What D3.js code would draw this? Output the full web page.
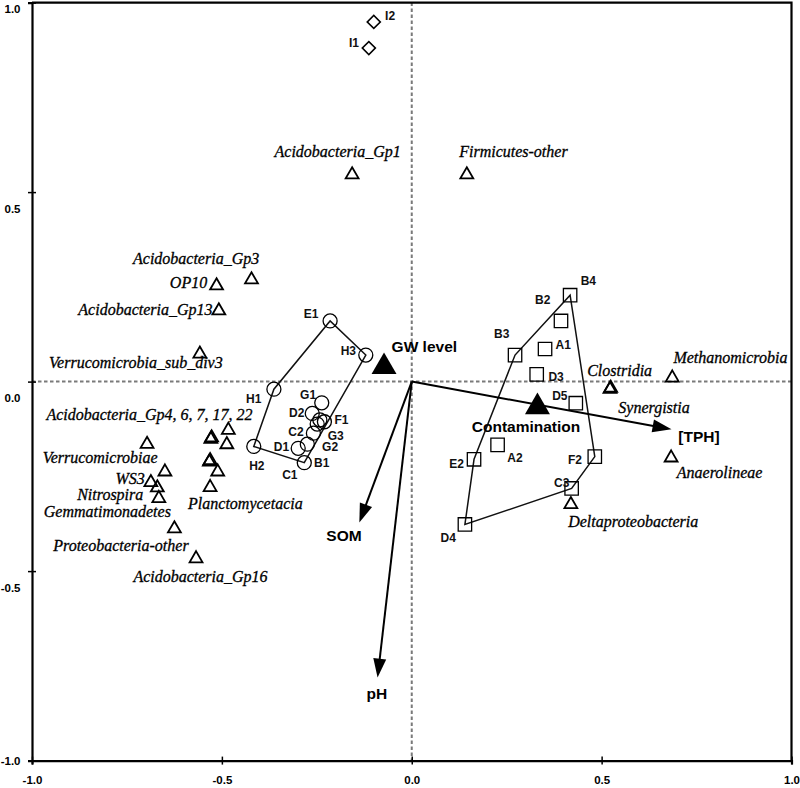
<!DOCTYPE html>
<html><head><meta charset="utf-8">
<script src="https://cdn.jsdelivr.net/npm/d3@7"></script>
<style>body{margin:0;background:#fff} svg{display:block}</style>
</head><body>
<script>
// ---------- data ----------
const axisTicks = [-1, -0.5, 0, 0.5, 1];
const axisTickLabels = ["-1.0", "-0.5", "0.0", "0.5", "1.0"];

// taxa (open triangles)
const taxa = [
  {name: "Acidobacteria_Gp1", x: -0.157, y: 0.546},
  {name: "Firmicutes-other", x: 0.145, y: 0.546},
  {name: "Acidobacteria_Gp3", x: -0.422, y: 0.269},
  {name: "OP10", x: -0.514, y: 0.253},
  {name: "Acidobacteria_Gp13", x: -0.508, y: 0.187},
  {name: "Verrucomicrobia_sub_div3", x: -0.558, y: 0.073},
  {name: "Clostridia", x: 0.522, y: -0.020},
  {name: "Synergistia", x: 0.524, y: -0.017},
  {name: "Methanomicrobia", x: 0.686, y: 0.010},
  {name: "Anaerolineae", x: 0.683, y: -0.201},
  {name: "Deltaproteobacteria", x: 0.419, y: -0.324},
  {name: "Acidobacteria_Gp22", x: -0.483, y: -0.128},
  {name: "Acidobacteria_Gp4", x: -0.529, y: -0.152},
  {name: "Acidobacteria_Gp6", x: -0.527, y: -0.148},
  {name: "Acidobacteria_Gp7", x: -0.487, y: -0.166},
  {name: "Verrucomicrobiae", x: -0.697, y: -0.165},
  {name: "Acidobacteria_Gp17", x: -0.533, y: -0.212},
  {name: "Planctomycetes-other", x: -0.531, y: -0.208},
  {name: "Acidobacteria_Gp5", x: -0.511, y: -0.238},
  {name: "Spartobacteria", x: -0.650, y: -0.238},
  {name: "WS3", x: -0.687, y: -0.266},
  {name: "Gemmatimonadetes", x: -0.670, y: -0.280},
  {name: "Nitrospira", x: -0.666, y: -0.308},
  {name: "Planctomycetacia", x: -0.531, y: -0.279},
  {name: "Proteobacteria-other", x: -0.625, y: -0.388},
  {name: "Acidobacteria_Gp16", x: -0.568, y: -0.467}
];

// samples
const circleSamples = [
  {id: "E1", x: -0.215, y: 0.160},
  {id: "H3", x: -0.121, y: 0.070},
  {id: "H1", x: -0.363, y: -0.020},
  {id: "H2", x: -0.416, y: -0.171},
  {id: "C1", x: -0.283, y: -0.214},
  {id: "D1", x: -0.299, y: -0.176},
  {id: "G2", x: -0.275, y: -0.165},
  {id: "C2", x: -0.259, y: -0.136},
  {id: "G3", x: -0.249, y: -0.112},
  {id: "F1", x: -0.242, y: -0.101},
  {id: "B1", x: -0.230, y: -0.106},
  {id: "D2", x: -0.262, y: -0.084},
  {id: "G1", x: -0.237, y: -0.056}
];
const squareSamples = [
  {id: "B4", x: 0.417, y: 0.228},
  {id: "B2", x: 0.393, y: 0.160},
  {id: "B3", x: 0.272, y: 0.070},
  {id: "A1", x: 0.351, y: 0.086},
  {id: "D3", x: 0.329, y: 0.019},
  {id: "D5", x: 0.432, y: -0.057},
  {id: "A2", x: 0.226, y: -0.167},
  {id: "E2", x: 0.164, y: -0.205},
  {id: "F2", x: 0.482, y: -0.198},
  {id: "C3", x: 0.421, y: -0.282},
  {id: "D4", x: 0.140, y: -0.377}
];
const diamondSamples = [
  {id: "I2", x: -0.100, y: 0.949},
  {id: "I1", x: -0.113, y: 0.880}
];

// environmental variables
const envArrows = [
  {name: "[TPH]", x: 0.684, y: -0.126},
  {name: "SOM", x: -0.138, y: -0.372},
  {name: "pH", x: -0.090, y: -0.781}
];
const centroids = [
  {name: "GW level", x: -0.073, y: 0.039},
  {name: "Contamination", x: 0.331, y: -0.067}
];

// label anchors (chart units)
const taxonLabels = [
  {text: "Acidobacteria_Gp1", x: -0.029, y: 0.606, anchor: "end"},
  {text: "Firmicutes-other", x: 0.125, y: 0.606, anchor: "start"},
  {text: "Acidobacteria_Gp3", x: -0.734, y: 0.325, anchor: "start"},
  {text: "OP10", x: -0.637, y: 0.262, anchor: "start"},
  {text: "Acidobacteria_Gp13", x: -0.878, y: 0.189, anchor: "start"},
  {text: "Verrucomicrobia_sub_div3", x: -0.955, y: 0.051, anchor: "start"},
  {text: "Acidobacteria_Gp4, 6, 7, 17, 22", x: -0.962, y: -0.088, anchor: "start"},
  {text: "Verrucomicrobiae", x: -0.972, y: -0.202, anchor: "start"},
  {text: "WS3", x: -0.780, y: -0.255, anchor: "start"},
  {text: "Nitrospira", x: -0.881, y: -0.299, anchor: "start"},
  {text: "Gemmatimonadetes", x: -0.969, y: -0.343, anchor: "start"},
  {text: "Proteobacteria-other", x: -0.944, y: -0.434, anchor: "start"},
  {text: "Acidobacteria_Gp16", x: -0.733, y: -0.515, anchor: "start"},
  {text: "Planctomycetacia", x: -0.589, y: -0.321, anchor: "start"},
  {text: "Clostridia", x: 0.462, y: 0.029, anchor: "start"},
  {text: "Methanomicrobia", x: 0.689, y: 0.064, anchor: "start"},
  {text: "Synergistia", x: 0.544, y: -0.070, anchor: "start"},
  {text: "Anaerolineae", x: 0.698, y: -0.240, anchor: "start"},
  {text: "Deltaproteobacteria", x: 0.412, y: -0.370, anchor: "start"}
];
const sampleLabels = [
  {text: "E1", x: -0.265, y: 0.178}, {text: "H3", x: -0.167, y: 0.081},
  {text: "H1", x: -0.416, y: -0.044}, {text: "H2", x: -0.408, y: -0.222},
  {text: "C1", x: -0.321, y: -0.245}, {text: "B1", x: -0.237, y: -0.214},
  {text: "D1", x: -0.343, y: -0.172}, {text: "C2", x: -0.305, y: -0.132},
  {text: "D2", x: -0.303, y: -0.082}, {text: "G1", x: -0.273, y: -0.034},
  {text: "F1", x: -0.185, y: -0.101}, {text: "G3", x: -0.200, y: -0.143},
  {text: "G2", x: -0.215, y: -0.173},
  {text: "B4", x: 0.465, y: 0.265}, {text: "B2", x: 0.345, y: 0.215},
  {text: "B3", x: 0.237, y: 0.127}, {text: "A1", x: 0.399, y: 0.097},
  {text: "D3", x: 0.380, y: 0.013}, {text: "D5", x: 0.390, y: -0.038},
  {text: "A2", x: 0.272, y: -0.202}, {text: "E2", x: 0.118, y: -0.216},
  {text: "F2", x: 0.430, y: -0.205}, {text: "C3", x: 0.395, y: -0.268},
  {text: "D4", x: 0.096, y: -0.413},
  {text: "I2", x: -0.057, y: 0.965}, {text: "I1", x: -0.152, y: 0.895}
];
const envLabels = [
  {text: "GW level", x: -0.053, y: 0.094, anchor: "start"},
  {text: "Contamination", x: 0.158, y: -0.117, anchor: "start"},
  {text: "[TPH]", x: 0.702, y: -0.144, anchor: "start"},
  {text: "SOM", x: -0.132, y: -0.407, anchor: "end"},
  {text: "pH", x: -0.092, y: -0.822, anchor: "middle"}
];

// ---------- drawing ----------
const W = 800, H = 788;
const svg = d3.select("body").append("svg").attr("width", W).attr("height", H);
svg.append("rect").attr("width", W).attr("height", H).attr("fill", "#fff");

const x = d3.scaleLinear().domain([-1, 1]).range([32, 791.5]);
const y = d3.scaleLinear().domain([-1, 1]).range([760.6, 2.6]);

// zero dashed lines
const zl = svg.append("g").attr("stroke", "#7a7a7a").attr("stroke-width", 2).attr("stroke-dasharray", "3.5,2.5");
zl.append("line").attr("x1", x(-1)).attr("x2", x(1)).attr("y1", y(0)).attr("y2", y(0));
zl.append("line").attr("x1", x(0)).attr("x2", x(0)).attr("y1", y(1)).attr("y2", y(-1));

// hulls
function hull(pts) {
  const h = d3.polygonHull(pts.map(d => [x(d.x), y(d.y)]));
  return "M" + h.join("L") + "Z";
}
svg.append("path").attr("d", hull(circleSamples)).attr("fill", "none").attr("stroke", "#111").attr("stroke-width", 1.5);
svg.append("path").attr("d", hull(squareSamples)).attr("fill", "none").attr("stroke", "#111").attr("stroke-width", 1.5);

// arrows
const ag = svg.append("g");
envArrows.forEach(a => {
  const x0 = x(0), y0 = y(0), x1 = x(a.x), y1 = y(a.y);
  const dx = x1 - x0, dy = y1 - y0, L = Math.hypot(dx, dy);
  const ux = dx / L, uy = dy / L, hl = 19, hw = 6.5;
  const bx = x1 - ux * hl, by = y1 - uy * hl;
  ag.append("line").attr("x1", x0).attr("y1", y0).attr("x2", bx + ux * 2).attr("y2", by + uy * 2)
    .attr("stroke", "#000").attr("stroke-width", 2);
  ag.append("path").attr("d", `M${x1},${y1}L${bx - uy * hw},${by + ux * hw}L${bx + uy * hw},${by - ux * hw}Z`)
    .attr("fill", "#000");
});

// markers
svg.append("g").selectAll("path").data(taxa).join("path")
  .attr("d", d3.symbol(d3.symbolTriangle, 72))
  .attr("transform", d => `translate(${x(d.x)},${y(d.y)})`)
  .attr("fill", "none").attr("stroke", "#000").attr("stroke-width", 1.8);
svg.append("g").selectAll("circle").data(circleSamples).join("circle")
  .attr("cx", d => x(d.x)).attr("cy", d => y(d.y)).attr("r", 7)
  .attr("fill", "none").attr("stroke", "#000").attr("stroke-width", 1.3);
svg.append("g").selectAll("path").data(squareSamples).join("path")
  .attr("d", d3.symbol(d3.symbolSquare, 180))
  .attr("transform", d => `translate(${x(d.x)},${y(d.y)})`)
  .attr("fill", "none").attr("stroke", "#000").attr("stroke-width", 1.3);
svg.append("g").selectAll("path").data(diamondSamples).join("path")
  .attr("d", d3.symbol(d3.symbolSquare, 85))
  .attr("transform", d => `translate(${x(d.x)},${y(d.y)}) rotate(45)`)
  .attr("fill", "none").attr("stroke", "#000").attr("stroke-width", 1.6);
svg.append("g").selectAll("path").data(centroids).join("path")
  .attr("d", d3.symbol(d3.symbolTriangle, 270))
  .attr("transform", d => `translate(${x(d.x)},${y(d.y)})`)
  .attr("fill", "#000");

// labels
svg.append("g").selectAll("text").data(taxonLabels).join("text")
  .attr("x", d => x(d.x)).attr("y", d => y(d.y)).attr("dy", "0.33em")
  .attr("text-anchor", d => d.anchor)
  .attr("font-family", "'Liberation Serif','Times New Roman',serif")
  .attr("font-style", "italic").attr("font-size", 16).attr("fill", "#000")
  .attr("stroke", "#000").attr("stroke-width", 0.3)
  .text(d => d.text);
svg.append("g").selectAll("text").data(sampleLabels).join("text")
  .attr("x", d => x(d.x)).attr("y", d => y(d.y)).attr("dy", "0.36em")
  .attr("text-anchor", "middle")
  .attr("font-family", "'Liberation Sans Narrow','Liberation Sans',Arial,sans-serif")
  .attr("font-weight", "bold").attr("font-size", 12).attr("fill", "#111")
  .text(d => d.text);
svg.append("g").selectAll("text").data(envLabels).join("text")
  .attr("x", d => x(d.x)).attr("y", d => y(d.y)).attr("dy", "0.36em")
  .attr("text-anchor", d => d.anchor)
  .attr("font-family", "'Liberation Sans',Arial,sans-serif")
  .attr("font-weight", "bold").attr("font-size", 15.5).attr("fill", "#000")
  .text(d => d.text);

// axes & frame
const fmt = v => axisTickLabels[axisTicks.indexOf(v)];
const gx = svg.append("g").attr("transform", `translate(0,${y(-1)})`)
  .call(d3.axisBottom(x).tickValues(axisTicks).tickFormat(fmt).tickSize(4).tickPadding(11));
const gy = svg.append("g").attr("transform", `translate(${x(-1)},0)`)
  .call(d3.axisLeft(y).tickValues(axisTicks).tickFormat(fmt).tickSize(4).tickPadding(7.5));
[gx, gy].forEach(g => {
  g.select(".domain").attr("stroke", "#000").attr("stroke-width", 2.2);
  g.selectAll(".tick line").attr("stroke", "#000").attr("stroke-width", 1.5);
  g.selectAll(".tick text").attr("font-family", "'Liberation Sans',Arial,sans-serif")
    .attr("font-weight", "bold").attr("font-size", 11.5).attr("fill", "#000");
});
gx.selectAll(".tick line").attr("y1", -4).attr("y2", 4);
gy.selectAll(".tick line").attr("x1", 4).attr("x2", -4);
gy.selectAll(".tick text").attr("dy", d => d === 1 ? "0.85em" : d === -1 ? "0.32em" : "1.75em");
svg.append("path")
  .attr("d", `M${x(-1)},${y(1)}H${x(1)}V${y(-1)}`)
  .attr("fill", "none").attr("stroke", "#000").attr("stroke-width", 2.2);
</script>
</body></html>
